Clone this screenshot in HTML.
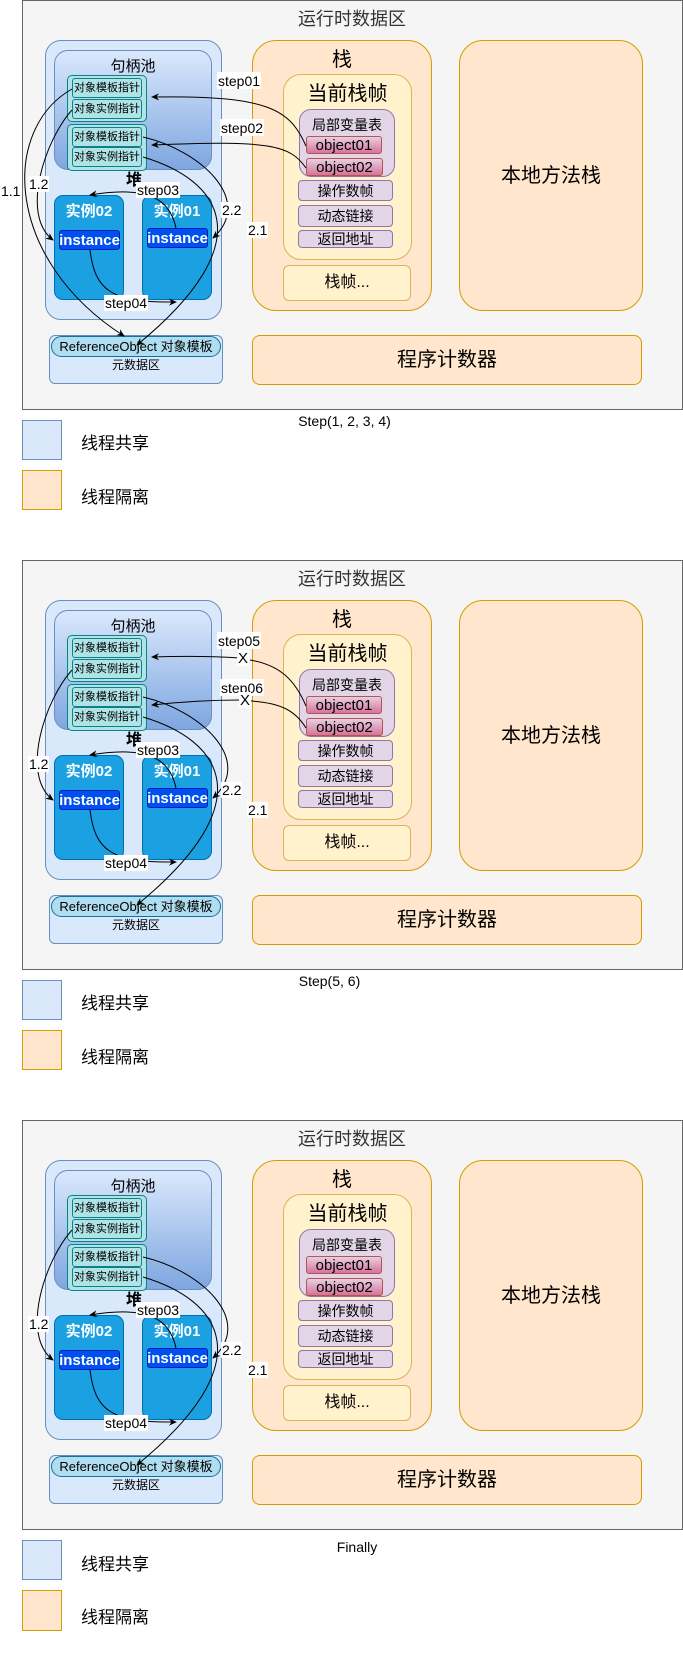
<!DOCTYPE html>
<html><head><meta charset="utf-8"><style>
*{margin:0;padding:0;box-sizing:border-box}
body{width:683px;height:1631px;background:#fff;position:relative;overflow:hidden;font-family:"Liberation Sans","Noto Sans CJK SC",sans-serif;color:#000}
.p{position:absolute;left:0;width:683px;height:560px}
.a{position:absolute;display:flex;align-items:center;justify-content:center;text-align:center;line-height:1}
.outer{left:22px;top:0;width:661px;height:410px;background:#f5f5f5;border:1px solid #666}
.heap{left:45px;top:40px;width:177px;height:280px;background:#dae8fc;border:1px solid #6c8ebf;border-radius:16px}
.pool{left:54px;top:50px;width:158px;height:120px;background:linear-gradient(#dae8fc,#7ea6e0);border:1px solid #6c8ebf;border-radius:14px}
.grp{width:80px;height:47px;background:#b0e3e6;border:1px solid #0e8088;border-radius:5px}
.cell{width:70px;height:20px;background:#b0e3e6;border:1px solid #0e8088;border-radius:3px;font-size:11px}
.inst{width:70px;height:105px;background:#1ba1e2;border:1px solid #006eaf;border-radius:9px}
.ilab{color:#fff;font-size:15px;font-weight:bold}
.ins{height:20px;background:#0050ef;border:1px solid #001dbc;border-radius:3px;color:#fff;font-size:15px;font-weight:bold}
.meta{left:49px;top:335px;width:174px;height:49px;background:#dae8fc;border:1px solid #6c8ebf;border-radius:6px}
.ref{left:51px;top:336px;width:170px;height:21px;background:#b1ddf0;border:1px solid #10739e;border-radius:11px;font-size:13px}
.org{background:#ffe6cc;border:1px solid #d79b00}
.yel{background:#fff2cc;border:1px solid #d6b656}
.pur{background:#e1d5e7;border:1px solid #9673a6;border-radius:4px;font-size:14px}
.pink{background:linear-gradient(#e6d0de,#d5739d);border:1px solid #b85450;border-radius:3px;font-size:15px}
.lab{background:#fff;font-size:14px;padding:0 1px}
svg{position:absolute;left:0;top:0}
</style></head><body>

<!-- PANEL 1 -->
<div class="p" style="top:0">
<div class="a outer"></div>
<div class="a" style="left:262px;top:9px;width:180px;height:20px;font-size:18px;color:#333">运行时数据区</div>
<div class="a heap"></div>
<div class="a pool"></div>
<div class="a" style="left:54px;top:58px;width:158px;height:17px;font-size:15px">句柄池</div>
<div class="a grp" style="left:67px;top:75px"></div><div class="a cell" style="left:72px;top:78px">对象模板指针</div><div class="a cell" style="left:72px;top:99px">对象实例指针</div>
<div class="a grp" style="left:67px;top:124px"></div><div class="a cell" style="left:72px;top:127px">对象模板指针</div><div class="a cell" style="left:72px;top:147px">对象实例指针</div>
<div class="a" style="left:124px;top:172px;width:20px;height:18px;font-size:16px;font-weight:bold">堆</div>
<div class="a inst" style="left:54px;top:195px"></div><div class="a ilab" style="left:54px;top:203px;width:70px;height:17px">实例02</div>
<div class="a inst" style="left:142px;top:195px"></div><div class="a ilab" style="left:142px;top:203px;width:70px;height:17px">实例01</div>
<div class="a ins" style="left:59px;top:230px;width:61px">instance</div>
<div class="a ins" style="left:147px;top:228px;width:61px">instance</div>
<div class="a meta"></div><div class="a ref">ReferenceObject 对象模板</div>
<div class="a" style="left:49px;top:358px;width:174px;height:14px;font-size:12px">元数据区</div>
<div class="a org" style="left:252px;top:40px;width:180px;height:271px;border-radius:24px"></div>
<div class="a" style="left:252px;top:49px;width:180px;height:21px;font-size:20px">栈</div>
<div class="a yel" style="left:283px;top:74px;width:129px;height:186px;border-radius:18px"></div>
<div class="a" style="left:283px;top:83px;width:129px;height:21px;font-size:20px">当前栈帧</div>
<div class="a pur" style="left:299px;top:109px;width:96px;height:68px;border-radius:12px;align-items:flex-start;padding-top:8px">局部变量表</div>
<div class="a pink" style="left:306px;top:136px;width:76px;height:18px">object01</div>
<div class="a pink" style="left:306px;top:158px;width:77px;height:18px">object02</div>
<div class="a pur" style="left:298px;top:180px;width:95px;height:21px">操作数帧</div>
<div class="a pur" style="left:298px;top:205px;width:95px;height:22px">动态链接</div>
<div class="a pur" style="left:298px;top:230px;width:95px;height:18px">返回地址</div>
<div class="a yel" style="left:283px;top:265px;width:128px;height:36px;border-radius:6px;font-size:16px">栈帧...</div>
<div class="a org" style="left:459px;top:40px;width:184px;height:271px;border-radius:24px;font-size:20px">本地方法栈</div>
<div class="a org" style="left:252px;top:335px;width:390px;height:50px;border-radius:8px;font-size:20px">程序计数器</div>
<svg width="683" height="560" fill="none" stroke="#000" stroke-width="1">
<defs><marker id="m" markerWidth="8" markerHeight="8" refX="7" refY="4" orient="auto" markerUnits="userSpaceOnUse"><path d="M0,0.5 L8,4 L0,7.5 L2.5,4Z" fill="#000" stroke="none"/></marker></defs>
<path d="M306,146 C290,110 270,95 152,97" marker-end="url(#m)"/>
<path d="M306,168 C290,145 270,140 152,145" marker-end="url(#m)"/>
<path d="M72,89 C0,130 5,260 124,336" marker-end="url(#m)"/>
<path d="M72,110 C45,140 20,215 53,240" marker-end="url(#m)"/>
<path d="M143,137 C200,150 255,200 213,238" marker-end="url(#m)"/>
<path d="M143,157 C220,180 265,240 137,345" marker-end="url(#m)"/>
<path d="M176,228 C170,200 150,185 90,195" marker-end="url(#m)"/>
<path d="M90,250 C95,290 110,303 176,302" marker-end="url(#m)"/>
</svg>
<div class="a lab" style="left:217px;top:72px;height:17px">step01</div>
<div class="a lab" style="left:220px;top:119px;height:17px">step02</div>
<div class="a lab" style="left:136px;top:182px;height:16px">step03</div>
<div class="a lab" style="left:104px;top:295px;height:16px">step04</div>
<div class="a lab" style="left:0px;top:183px;height:16px">1.1</div>
<div class="a lab" style="left:28px;top:176px;height:16px">1.2</div>
<div class="a lab" style="left:221px;top:202px;height:16px">2.2</div>
<div class="a lab" style="left:247px;top:222px;height:16px">2.1</div>
<div class="a" style="left:292px;top:413px;width:105px;height:16px;font-size:14px">Step(1, 2, 3, 4)</div>
<div class="a" style="left:22px;top:420px;width:40px;height:40px;background:#dae8fc;border:1px solid #6c8ebf"></div>
<div class="a" style="left:81px;top:433px;height:20px;font-size:17px">线程共享</div>
<div class="a" style="left:22px;top:470px;width:40px;height:40px;background:#ffe6cc;border:1px solid #d79b00"></div>
<div class="a" style="left:81px;top:487px;height:20px;font-size:17px">线程隔离</div>
</div>

<!-- PANEL 2 -->
<div class="p" style="top:560px">
<div class="a outer"></div>
<div class="a" style="left:262px;top:9px;width:180px;height:20px;font-size:18px;color:#333">运行时数据区</div>
<div class="a heap"></div>
<div class="a pool"></div>
<div class="a" style="left:54px;top:58px;width:158px;height:17px;font-size:15px">句柄池</div>
<div class="a grp" style="left:67px;top:75px"></div><div class="a cell" style="left:72px;top:78px">对象模板指针</div><div class="a cell" style="left:72px;top:99px">对象实例指针</div>
<div class="a grp" style="left:67px;top:124px"></div><div class="a cell" style="left:72px;top:127px">对象模板指针</div><div class="a cell" style="left:72px;top:147px">对象实例指针</div>
<div class="a" style="left:124px;top:172px;width:20px;height:18px;font-size:16px;font-weight:bold">堆</div>
<div class="a inst" style="left:54px;top:195px"></div><div class="a ilab" style="left:54px;top:203px;width:70px;height:17px">实例02</div>
<div class="a inst" style="left:142px;top:195px"></div><div class="a ilab" style="left:142px;top:203px;width:70px;height:17px">实例01</div>
<div class="a ins" style="left:59px;top:230px;width:61px">instance</div>
<div class="a ins" style="left:147px;top:228px;width:61px">instance</div>
<div class="a meta"></div><div class="a ref">ReferenceObject 对象模板</div>
<div class="a" style="left:49px;top:358px;width:174px;height:14px;font-size:12px">元数据区</div>
<div class="a org" style="left:252px;top:40px;width:180px;height:271px;border-radius:24px"></div>
<div class="a" style="left:252px;top:49px;width:180px;height:21px;font-size:20px">栈</div>
<div class="a yel" style="left:283px;top:74px;width:129px;height:186px;border-radius:18px"></div>
<div class="a" style="left:283px;top:83px;width:129px;height:21px;font-size:20px">当前栈帧</div>
<div class="a pur" style="left:299px;top:109px;width:96px;height:68px;border-radius:12px;align-items:flex-start;padding-top:8px">局部变量表</div>
<div class="a pink" style="left:306px;top:136px;width:76px;height:18px">object01</div>
<div class="a pink" style="left:306px;top:158px;width:77px;height:18px">object02</div>
<div class="a pur" style="left:298px;top:180px;width:95px;height:21px">操作数帧</div>
<div class="a pur" style="left:298px;top:205px;width:95px;height:22px">动态链接</div>
<div class="a pur" style="left:298px;top:230px;width:95px;height:18px">返回地址</div>
<div class="a yel" style="left:283px;top:265px;width:128px;height:36px;border-radius:6px;font-size:16px">栈帧...</div>
<div class="a org" style="left:459px;top:40px;width:184px;height:271px;border-radius:24px;font-size:20px">本地方法栈</div>
<div class="a org" style="left:252px;top:335px;width:390px;height:50px;border-radius:8px;font-size:20px">程序计数器</div>
<svg width="683" height="560" fill="none" stroke="#000" stroke-width="1">
<path d="M306,146 C295,120 280,105 250,100"/>
<path d="M240,98 C210,96 180,96 152,97" marker-end="url(#m)"/>
<path d="M306,168 C295,150 280,143 251,141"/>
<path d="M240,140 C210,140 180,142 152,145" marker-end="url(#m)"/>
<path d="M72,110 C45,140 20,215 53,240" marker-end="url(#m)"/>
<path d="M143,137 C200,150 255,200 213,238" marker-end="url(#m)"/>
<path d="M143,157 C220,180 265,240 137,345" marker-end="url(#m)"/>
<path d="M176,228 C170,200 150,185 90,195" marker-end="url(#m)"/>
<path d="M90,250 C95,290 110,303 176,302" marker-end="url(#m)"/>
</svg>
<div class="a lab" style="left:217px;top:72px;height:17px">step05</div>
<div class="a lab" style="left:237px;top:90px;height:16px;font-size:15px">X</div>
<div class="a lab" style="left:220px;top:119px;height:17px">step06</div>
<div class="a lab" style="left:239px;top:132px;height:16px;font-size:15px">X</div>
<div class="a lab" style="left:136px;top:182px;height:16px">step03</div>
<div class="a lab" style="left:104px;top:295px;height:16px">step04</div>
<div class="a lab" style="left:28px;top:196px;height:16px">1.2</div>
<div class="a lab" style="left:221px;top:222px;height:16px">2.2</div>
<div class="a lab" style="left:247px;top:242px;height:16px">2.1</div>
<div class="a" style="left:292px;top:413px;width:75px;height:16px;font-size:14px">Step(5, 6)</div>
<div class="a" style="left:22px;top:420px;width:40px;height:40px;background:#dae8fc;border:1px solid #6c8ebf"></div>
<div class="a" style="left:81px;top:433px;height:20px;font-size:17px">线程共享</div>
<div class="a" style="left:22px;top:470px;width:40px;height:40px;background:#ffe6cc;border:1px solid #d79b00"></div>
<div class="a" style="left:81px;top:487px;height:20px;font-size:17px">线程隔离</div>
</div>

<!-- PANEL 3 -->
<div class="p" style="top:1120px">
<div class="a outer"></div>
<div class="a" style="left:262px;top:9px;width:180px;height:20px;font-size:18px;color:#333">运行时数据区</div>
<div class="a heap"></div>
<div class="a pool"></div>
<div class="a" style="left:54px;top:58px;width:158px;height:17px;font-size:15px">句柄池</div>
<div class="a grp" style="left:67px;top:75px"></div><div class="a cell" style="left:72px;top:78px">对象模板指针</div><div class="a cell" style="left:72px;top:99px">对象实例指针</div>
<div class="a grp" style="left:67px;top:124px"></div><div class="a cell" style="left:72px;top:127px">对象模板指针</div><div class="a cell" style="left:72px;top:147px">对象实例指针</div>
<div class="a" style="left:124px;top:172px;width:20px;height:18px;font-size:16px;font-weight:bold">堆</div>
<div class="a inst" style="left:54px;top:195px"></div><div class="a ilab" style="left:54px;top:203px;width:70px;height:17px">实例02</div>
<div class="a inst" style="left:142px;top:195px"></div><div class="a ilab" style="left:142px;top:203px;width:70px;height:17px">实例01</div>
<div class="a ins" style="left:59px;top:230px;width:61px">instance</div>
<div class="a ins" style="left:147px;top:228px;width:61px">instance</div>
<div class="a meta"></div><div class="a ref">ReferenceObject 对象模板</div>
<div class="a" style="left:49px;top:358px;width:174px;height:14px;font-size:12px">元数据区</div>
<div class="a org" style="left:252px;top:40px;width:180px;height:271px;border-radius:24px"></div>
<div class="a" style="left:252px;top:49px;width:180px;height:21px;font-size:20px">栈</div>
<div class="a yel" style="left:283px;top:74px;width:129px;height:186px;border-radius:18px"></div>
<div class="a" style="left:283px;top:83px;width:129px;height:21px;font-size:20px">当前栈帧</div>
<div class="a pur" style="left:299px;top:109px;width:96px;height:68px;border-radius:12px;align-items:flex-start;padding-top:8px">局部变量表</div>
<div class="a pink" style="left:306px;top:136px;width:76px;height:18px">object01</div>
<div class="a pink" style="left:306px;top:158px;width:77px;height:18px">object02</div>
<div class="a pur" style="left:298px;top:180px;width:95px;height:21px">操作数帧</div>
<div class="a pur" style="left:298px;top:205px;width:95px;height:22px">动态链接</div>
<div class="a pur" style="left:298px;top:230px;width:95px;height:18px">返回地址</div>
<div class="a yel" style="left:283px;top:265px;width:128px;height:36px;border-radius:6px;font-size:16px">栈帧...</div>
<div class="a org" style="left:459px;top:40px;width:184px;height:271px;border-radius:24px;font-size:20px">本地方法栈</div>
<div class="a org" style="left:252px;top:335px;width:390px;height:50px;border-radius:8px;font-size:20px">程序计数器</div>
<svg width="683" height="560" fill="none" stroke="#000" stroke-width="1">
<path d="M72,110 C45,140 20,215 53,240" marker-end="url(#m)"/>
<path d="M143,137 C200,150 255,200 213,238" marker-end="url(#m)"/>
<path d="M143,157 C220,180 265,240 137,345" marker-end="url(#m)"/>
<path d="M176,228 C170,200 150,185 90,195" marker-end="url(#m)"/>
<path d="M90,250 C95,290 110,303 176,302" marker-end="url(#m)"/>
</svg>
<div class="a lab" style="left:136px;top:182px;height:16px">step03</div>
<div class="a lab" style="left:104px;top:295px;height:16px">step04</div>
<div class="a lab" style="left:28px;top:196px;height:16px">1.2</div>
<div class="a lab" style="left:221px;top:222px;height:16px">2.2</div>
<div class="a lab" style="left:247px;top:242px;height:16px">2.1</div>
<div class="a" style="left:333px;top:419px;width:48px;height:16px;font-size:14px">Finally</div>
<div class="a" style="left:22px;top:420px;width:40px;height:40px;background:#dae8fc;border:1px solid #6c8ebf"></div>
<div class="a" style="left:81px;top:434px;height:20px;font-size:17px">线程共享</div>
<div class="a" style="left:22px;top:470px;width:40px;height:41px;background:#ffe6cc;border:1px solid #d79b00"></div>
<div class="a" style="left:81px;top:487px;height:20px;font-size:17px">线程隔离</div>
</div>
</body></html>
